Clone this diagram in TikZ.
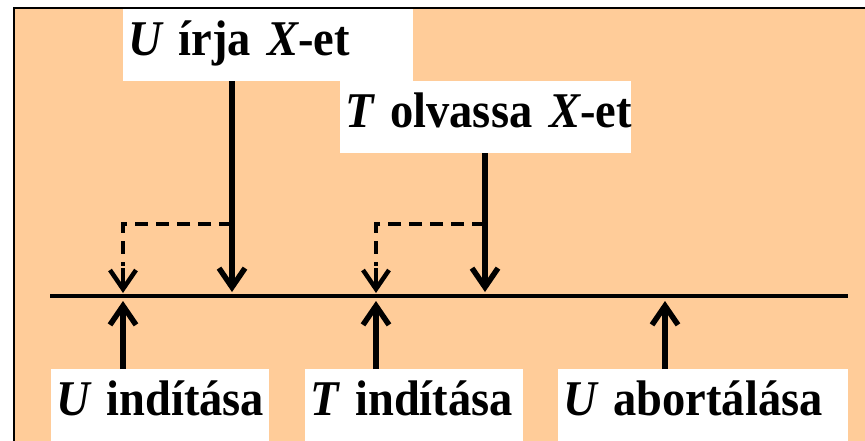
\documentclass[tikz,border=0pt]{standalone}
\usepackage{fontspec}
\setmainfont{Liberation Serif}[FakeStretch=0.93]
\usetikzlibrary{arrows.meta}
\definecolor{peach}{RGB}{255,204,153}
\tikzset{lbl/.style={fill=white,anchor=north west,inner xsep=5pt,inner ysep=0pt,text height=46pt,text depth=26pt,align=left,font=\fontsize{50}{52}\selectfont\bfseries},
tip/.style={-{Straight Barb[length=19pt,width=26pt]}},
dsh/.style={line width=4.5pt,dash pattern=on 13pt off 8pt}}

\begin{document}
\begin{tikzpicture}[x=1pt,y=-1pt]
\clip(0,0)rectangle(865,441);
\useasboundingbox(0,0)rectangle(865,441);
\draw[line width=1.5pt,fill=peach](14,8)rectangle(900,480);
\coordinate(s1)at(123,296);\coordinate(w1)at(232,296);
\coordinate(s2)at(376,296);\coordinate(r1)at(485,296);
\coordinate(a1)at(665,296);
\coordinate(k1)at(232,224);\coordinate(k2)at(485,224);
\draw[line width=3.5pt](50,296)--(848,296);
\node[lbl,text width=280pt](uw)at(123,9){\mbox{{\itshape U} írja {\itshape X}-et}};
\node[lbl,text width=281pt](tr)at(340,81){\mbox{{\itshape T} olvassa {\itshape X}-et}};
\node[lbl,text width=208pt,text depth=40pt](ui)at(51,369){\mbox{{\itshape U} indítása}};
\node[lbl,text width=208pt,text depth=40pt](ti)at(305,369){\mbox{{\itshape T} indítása}};
\node[lbl,text width=280pt,text depth=40pt](ua)at(558,369){\mbox{{\itshape U} abortálása}};
\draw[tip,line width=5.5pt](uw.south-|w1)--([yshift=4pt]w1);
\draw[tip,line width=5.5pt](tr.south-|r1)--([yshift=4pt]r1);
\draw[dsh](k1)-|([yshift=30pt]s1);
\draw[dsh](k2)-|([yshift=30pt]s2);
\draw[tip,line width=4.5pt]([yshift=28pt]s1)--([yshift=3pt]s1);
\draw[tip,line width=4.5pt]([yshift=28pt]s2)--([yshift=3pt]s2);
\draw[tip,line width=5.5pt](ui.north-|s1)--([yshift=-5pt]s1);
\draw[tip,line width=5.5pt](ti.north-|s2)--([yshift=-5pt]s2);
\draw[tip,line width=5.5pt](ua.north-|a1)--([yshift=-5pt]a1);
\end{tikzpicture}
\end{document}
